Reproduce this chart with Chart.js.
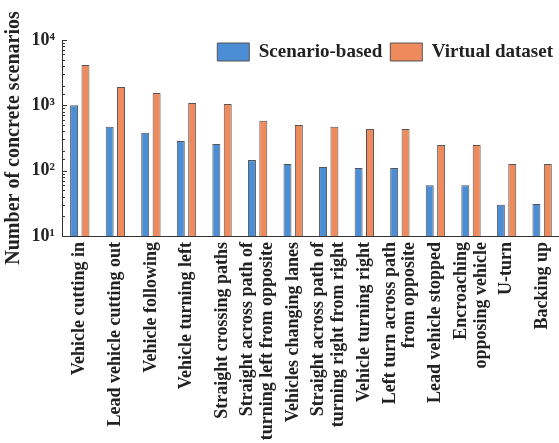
<!DOCTYPE html>
<html>
<head>
<meta charset="utf-8">
<script src="https://cdn.jsdelivr.net/npm/chart.js@4.4.0/dist/chart.umd.min.js"></script>
<style>
  html, body { margin: 0; padding: 0; background: #fff; overflow: hidden; }
  #wrap { width: 568px; height: 443px; }
</style>
</head>
<body>
<div id="wrap"><canvas id="scenario_chart" width="568" height="443"></canvas></div>
<script>
// scenario types
var categories = [
    'Vehicle cutting in',
    'Lead vehicle cutting out',
    'Vehicle following',
    'Vehicle turning left',
    'Straight crossing paths',
    ['Straight across path of', 'turning left from opposite'],
    'Vehicles changing lanes',
    ['Straight across path of', 'turning right from right'],
    'Vehicle turning right',
    ['Left turn across path', 'from opposite'],
    'Lead vehicle stopped',
    ['Encroaching', 'opposing vehicle'],
    'U-turn',
    'Backing up'
];

// number of concrete scenarios per type
var scenario_based  = [1000, 470, 380, 285, 255, 145, 127, 114, 110, 110, 60, 60, 30, 31];
var virtual_dataset = [4150, 1900, 1550, 1090, 1050, 580, 500, 470, 435, 435, 248, 248, 127, 127];

// decades on the log axis
var y_ticks = [10, 100, 1000, 10000];
var y_tick_labels = ['10\u00b9', '10\u00b2', '10\u00b3', '10\u2074'];

var serif = "'Liberation Serif', 'Times New Roman', serif";
Chart.defaults.font.family = serif;
Chart.defaults.font.weight = 'bold';
Chart.defaults.color = '#222';

// small ticks pointing into the plot, longer ones at each decade
var inner_ticks = {
    id: 'inner_ticks',
    afterDraw: function(chart){
        var y = chart.scales.y;
        var ctx = chart.ctx;
        var x0 = y.right;
        ctx.save();
        ctx.strokeStyle = '#333';
        ctx.lineWidth = 1;
        y.ticks.forEach(function(t){
            var py = Math.round(y.getPixelForValue(t.value)) + 0.5;
            var len = y_ticks.indexOf(t.value) >= 0 ? 5 : 3;
            ctx.beginPath();
            ctx.moveTo(x0, py);
            ctx.lineTo(x0 + len, py);
            ctx.stroke();
        });
        ctx.restore();
    }
};

// two-line category labels: centre both lines on the group
var center_lines = {
    id: 'center_lines',
    beforeDraw: function(chart){
        var items = chart.scales.x.getLabelItems();
        items.forEach(function(it){
            if (Array.isArray(it.label) && !it.shifted) {
                it.options.translation[0] -= (it.label.length - 1) * it.font.lineHeight / 2;
                it.shifted = true;
            }
        });
    }
};

// legend sits inside the plot, top right, without taking layout space
var float_legend = {
    id: 'float_legend',
    beforeLayout: function(chart){
        var lg = chart.legend;
        if (lg && !lg.flat) {
            var fit = lg.fit;
            lg.fit = function(){ fit.call(this); this.height = 0; };
            lg.flat = true;
        }
    },
    afterLayout: function(chart){
        var lg = chart.legend;
        var pad = lg.options.labels.padding;
        lg.top = 42.5 - pad;
        lg.height = 40;
        lg.bottom = lg.top + lg.height;
        lg.right = 553 + pad;
        lg.width = lg.right - lg.left;
    }
};

var chart_data = {
    labels: categories,
    datasets: [
        {
            label: 'Scenario-based',
            data: scenario_based,
            backgroundColor: '#4b8ed6',
            borderColor: '#555',
            borderWidth: 1
        },
        {
            label: 'Virtual dataset',
            data: virtual_dataset,
            backgroundColor: '#ee8a5b',
            borderColor: '#555',
            borderWidth: 1
        }
    ]
};

var scenario_chart = new Chart(document.getElementById('scenario_chart'), {
    type: 'bar',
    data: chart_data,
    options: {
        responsive: false,
        animation: false,
        layout: { padding: { top: 40, right: 2, left: 0, bottom: 0 } },
        datasets: {
            bar: { categoryPercentage: 0.64, barPercentage: 0.7 }
        },
        plugins: {
            legend: {
                position: 'top',
                align: 'end',
                labels: {
                    boxWidth: 32,
                    boxHeight: 18,
                    padding: 8,
                    color: '#222',
                    font: { size: 19, weight: 'bold', family: serif }
                }
            },
            tooltip: { enabled: false }
        },
        scales: {
            x: {
                grid: { display: false, drawTicks: false },
                border: { display: true, color: '#333', width: 1 },
                ticks: {
                    autoSkip: false,
                    minRotation: 90,
                    maxRotation: 90,
                    padding: 6,
                    color: '#222',
                    font: { size: 18, weight: 'bold', family: serif, lineHeight: 1.1 }
                },
                afterFit: function(scale){ scale.height = 207; }
            },
            y: {
                type: 'logarithmic',
                min: 10,
                max: 10000,
                grid: { display: false, drawTicks: false },
                border: { display: true, color: '#333', width: 1 },
                ticks: {
                    autoSkip: false,
                    padding: 7,
                    color: '#222',
                    font: { size: 18, weight: 'bold', family: serif },
                    callback: function(value){
                        var i = y_ticks.indexOf(value);
                        return i >= 0 ? y_tick_labels[i] : '';
                    }
                },
                title: {
                    display: true,
                    text: 'Number of concrete scenarios',
                    color: '#222',
                    padding: { top: 2, bottom: 0 },
                    font: { size: 20, weight: 'bold', family: serif }
                },
                afterFit: function(scale){ scale.width = 62; }
            }
        }
    },
    plugins: [inner_ticks, center_lines, float_legend]
});
</script>
</body>
</html>
